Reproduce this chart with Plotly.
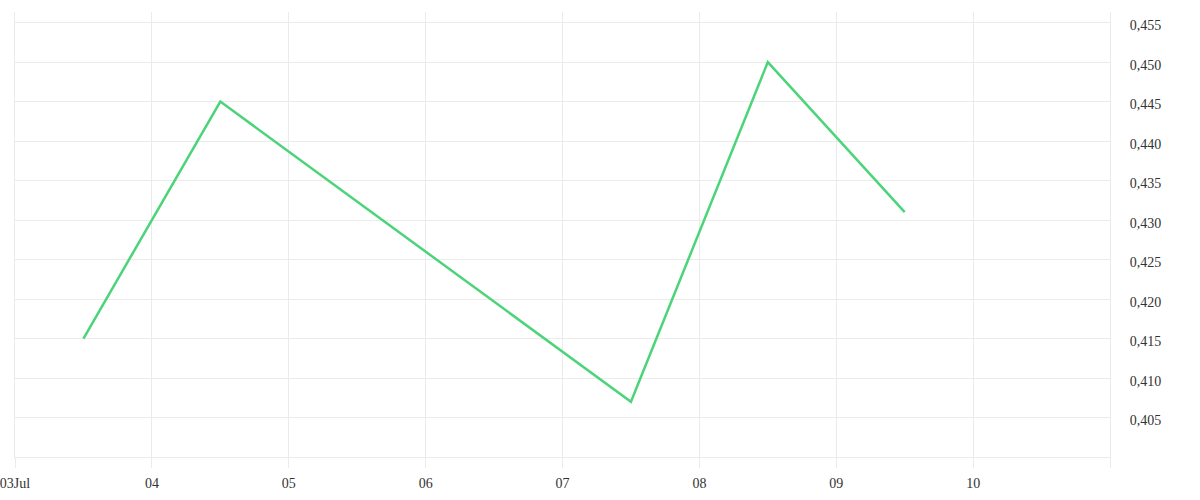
import plotly.graph_objects as go

dates = ["2024-07-03 12:00", "2024-07-04 12:00", "2024-07-07 12:00", "2024-07-08 12:00", "2024-07-09 12:00"]
values = [0.415, 0.445, 0.407, 0.450, 0.431]

x_tickvals = ["2024-07-03", "2024-07-04", "2024-07-05", "2024-07-06", "2024-07-07",
              "2024-07-08", "2024-07-09", "2024-07-10", "2024-07-11"]
x_ticktext = ["03Jul", "04", "05", "06", "07", "08", "09", "10", ""]
y_tickvals = [0.405, 0.410, 0.415, 0.420, 0.425, 0.430, 0.435, 0.440, 0.445, 0.450, 0.455]
y_ticktext = ["0,405", "0,410", "0,415", "0,420", "0,425", "0,430", "0,435", "0,440", "0,445", "0,450", "0,455"]

grid = "#ebebeb"
font = dict(family="Liberation Serif", size=14, color="#333333")

fig = go.Figure(go.Scatter(
    x=dates, y=values, mode="lines",
    line=dict(color="#4cd47a", width=2.5),
    hoverinfo="skip",
))

fig.update_layout(
    width=1200, height=500,
    margin=dict(l=15, r=90, t=12, b=43),
    paper_bgcolor="white", plot_bgcolor="white",
    showlegend=False,
    font=font,
    xaxis=dict(
        range=["2024-07-03", "2024-07-11"],
        tickvals=x_tickvals, ticktext=x_ticktext,
        showgrid=True, gridcolor=grid, gridwidth=1,
        ticks="outside", ticklen=10, tickcolor=grid, tickwidth=1,
        showline=True, linecolor=grid, linewidth=1,
        zeroline=False, tickfont=font, automargin=False,
        ticklabeloverflow="allow", ticklabelstandoff=3,
    ),
    yaxis=dict(
        side="right",
        range=[0.400, 0.45634],
        tickvals=y_tickvals, ticktext=y_ticktext,
        showgrid=True, gridcolor=grid, gridwidth=1,
        ticks="", showline=True, linecolor=grid, linewidth=1, mirror=True,
        zeroline=False, tickfont=font, automargin=False,
        ticklabelstandoff=16, ticklabelshift=3,
    ),
)

fig.write_html("out.html", post_script="document.body.style.margin='0';",
               config={"displayModeBar": False})
